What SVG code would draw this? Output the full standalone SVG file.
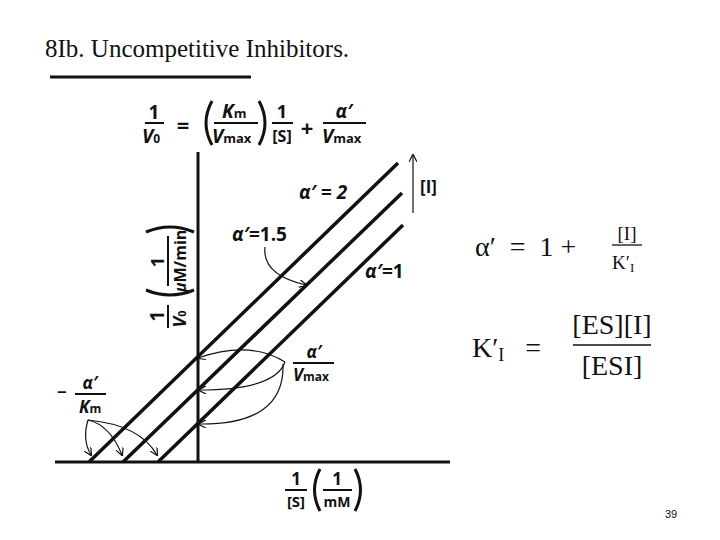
<svg xmlns="http://www.w3.org/2000/svg" width="720" height="540" viewBox="0 0 720 540">
<style>
.s{font-family:"Open Sans","DejaVu Sans",sans-serif;font-weight:bold;fill:#111}
.i{font-style:italic}
.t{font-family:"Liberation Serif",serif;fill:#111}
.ln{stroke:#111;stroke-width:3.5;fill:none}
.ax{stroke:#111;stroke-width:3;fill:none}
.c{stroke:#111;stroke-width:1.2;fill:none}
.p{stroke:#111;stroke-width:3;fill:none}
</style>
<defs><marker id="a" markerWidth="8" markerHeight="8" refX="7" refY="4" orient="auto" markerUnits="userSpaceOnUse"><path d="M0,0 L8,4 L0,8" fill="none" stroke="#111" stroke-width="1.2"/></marker></defs>
<rect width="720" height="540" fill="#fff"/>
<g id="title"><text x="45" y="57" class="t" font-size="25">8Ib. Uncompetitive Inhibitors.</text><line x1="50" y1="77" x2="251" y2="77" stroke="#111" stroke-width="3"/></g>
<g id="equation">
<text class="s" font-size="19" x="154" y="119" text-anchor="middle">1</text><line x1="145" y1="123" x2="164" y2="123" stroke="#111" stroke-width="2"/><text class="s i" font-size="19" x="151" y="143" text-anchor="middle">V<tspan font-size="12" font-style="normal">0</tspan></text>
<text class="s" font-size="22" x="183" y="133" text-anchor="middle">=</text>
<path class="p" d="M212,101 Q200,123 212,145"/>
<text class="s i" font-size="19" x="222" y="118">K<tspan font-size="13" font-style="normal">m</tspan></text><line x1="214" y1="123" x2="258" y2="123" stroke="#111" stroke-width="2"/><text class="s i" font-size="19" x="212" y="143">V<tspan font-size="13" font-style="normal">max</tspan></text>
<path class="p" d="M259,101 Q271,123 259,145"/>
<text class="s" font-size="18" x="282" y="118" text-anchor="middle">1</text><line x1="272" y1="123" x2="293" y2="123" stroke="#111" stroke-width="2"/><text class="s" font-size="16" x="282" y="142" text-anchor="middle">[S]</text>
<text class="s" font-size="22" font-weight="normal" x="307" y="136" text-anchor="middle">+</text>
<text class="s i" font-size="19" x="344" y="118" text-anchor="middle">α′</text><line x1="323" y1="123" x2="366" y2="123" stroke="#111" stroke-width="2"/><text class="s i" font-size="19" x="322" y="143">V<tspan font-size="13" font-style="normal">max</tspan></text>
</g>
<g id="axes"><line class="ax" x1="55" y1="462" x2="450" y2="462"/><line class="ax" x1="198" y1="152" x2="198" y2="462"/></g>
<g id="lines"><line class="ln" x1="89" y1="462" x2="398" y2="163"/><line class="ln" x1="123" y1="462" x2="402" y2="193"/><line class="ln" x1="158" y1="462" x2="403" y2="225"/></g>
<g id="ylabel" transform="translate(170,272) rotate(-90)">
<text class="s" font-size="19" x="-44" y="-6" text-anchor="middle">1</text><line x1="-56" y1="-2" x2="-33" y2="-2" stroke="#111" stroke-width="2"/><text class="s i" font-size="18" x="-47" y="16" text-anchor="middle">V<tspan font-size="11" font-style="normal">0</tspan></text>
<path class="p" d="M-18,-24 Q-28,0 -18,24"/>
<text class="s" font-size="18" x="10" y="-6" text-anchor="middle">1</text><line x1="-14" y1="-2" x2="36" y2="-2" stroke="#111" stroke-width="2"/><text class="s" font-size="16" x="11" y="16" text-anchor="middle"><tspan class="i">μ</tspan>M/min</text>
<path class="p" d="M40,-24 Q50,0 40,24"/>
</g>
<g id="xlabel">
<text class="s" font-size="17" x="296" y="485" text-anchor="middle">1</text><line x1="285" y1="490" x2="307" y2="490" stroke="#111" stroke-width="2"/><text class="s" font-size="15" x="296" y="507" text-anchor="middle">[S]</text>
<path class="p" d="M320,469 Q309,490 320,511"/>
<text class="s" font-size="17" x="337" y="485" text-anchor="middle">1</text><line x1="323" y1="490" x2="352" y2="490" stroke="#111" stroke-width="2"/><text class="s" font-size="14" x="337" y="507" text-anchor="middle">mM</text>
<path class="p" d="M355,469 Q366,490 355,511"/>
</g>
<g id="labels">
<text class="s i" font-size="19" x="299" y="199">α′ = 2</text>
<text class="s i" font-size="19" x="232" y="241">α′<tspan font-style="normal">=1.5</tspan></text>
<text class="s i" font-size="19" x="365" y="278">α′<tspan font-style="normal">=1</tspan></text>
<text class="s" font-size="17" x="420" y="193">[I]</text>
<text class="s i" font-size="17" x="314" y="358" text-anchor="middle">α′</text><line x1="293" y1="363" x2="334" y2="363" stroke="#111" stroke-width="2"/><text class="s i" font-size="17" x="293" y="381">V<tspan font-size="12" font-style="normal">max</tspan></text>
<text class="s" font-size="17" x="57" y="398">−</text>
<text class="s i" font-size="17" x="90" y="389" text-anchor="middle">α′</text><line x1="75" y1="394" x2="106" y2="394" stroke="#111" stroke-width="2"/><text class="s i" font-size="17" x="79" y="413">K<tspan font-size="12" font-style="normal">m</tspan></text>
</g>
<g id="connectors">
<line class="c" x1="413" y1="213" x2="413" y2="155" marker-end="url(#a)"/>
<path class="c" d="M265,247 Q262,275 306,285" marker-end="url(#a)"/>
<path class="c" d="M285,362 Q250,340 198,358" marker-end="url(#a)"/>
<path class="c" d="M285,362 Q275,390 199,390" marker-end="url(#a)"/>
<path class="c" d="M283,364 Q285,425 199,424" marker-end="url(#a)"/>
<path class="c" d="M88,420 Q82,440 91,455" marker-end="url(#a)"/>
<path class="c" d="M88,420 Q110,425 122,455" marker-end="url(#a)"/>
<path class="c" d="M88,420 Q140,425 157,455" marker-end="url(#a)"/>
</g>
<g id="defs-right">
<text class="t" font-size="28" x="475" y="256">α′ &#160;=&#160; 1 +</text>
<text class="t" font-size="19" x="627" y="240" text-anchor="middle">[I]</text><line x1="612" y1="245" x2="642" y2="245" stroke="#111" stroke-width="1.3"/><text class="t" font-size="19" x="612" y="269">K′<tspan font-size="13" dy="3">I</tspan></text>
<text class="t" font-size="28" x="472" y="357">K′<tspan font-size="18" dy="4">I</tspan><tspan dy="-4"> &#160; =</tspan></text>
<text class="t" font-size="28" x="612" y="334" text-anchor="middle">[ES][I]</text><line x1="573" y1="345" x2="651" y2="345" stroke="#111" stroke-width="1.5"/><text class="t" font-size="28" x="612" y="375" text-anchor="middle">[ESI]</text>
</g>
<text x="665" y="518" font-family="Liberation Sans,sans-serif" font-size="11" fill="#111">39</text>
</svg>
